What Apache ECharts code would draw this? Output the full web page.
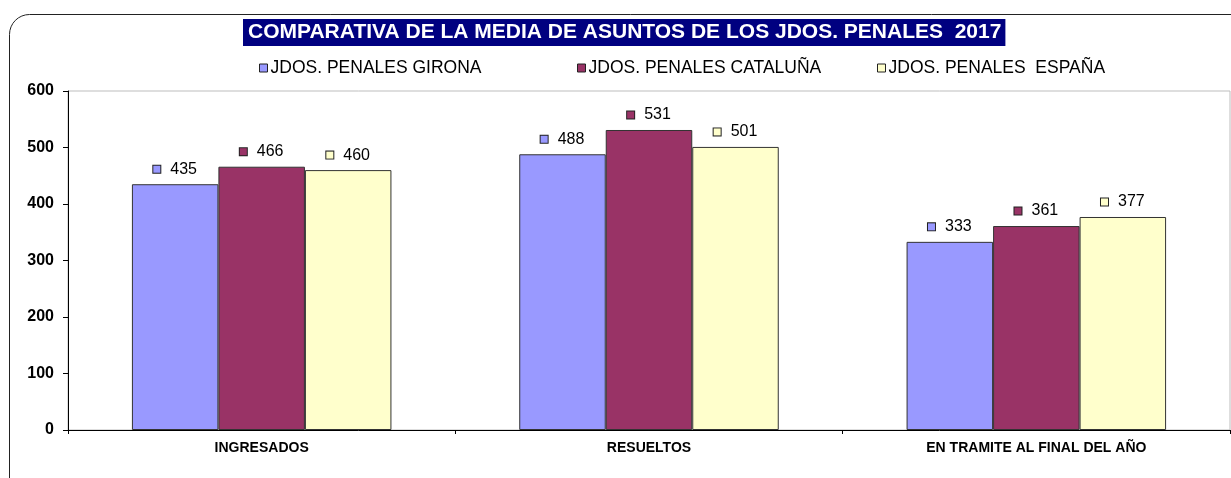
<!doctype html>
<html>
<head>
<meta charset="utf-8">
<title>Comparativa media asuntos jdos. penales 2017</title>
<style>
	html,body{height:100%;padding:0;margin:0;background:#fff;}
	#chart{width:1231px;height:478px;}
</style>
</head>
<body>
<div id="chart"></div>
<script src="https://cdn.jsdelivr.net/npm/echarts@6/dist/echarts.min.js"></script>
<script>
var categories = ['INGRESADOS', 'RESUELTOS', 'EN TRAMITE AL FINAL DEL AÑO'];
var seriesNames = ['JDOS. PENALES GIRONA', 'JDOS. PENALES CATALUÑA', 'JDOS. PENALES  ESPAÑA'];
var girona = [435, 488, 333];
var cataluna = [466, 531, 361];
var espana = [460, 501, 377];
var yTicks = [0, 100, 200, 300, 400, 500, 600];

var colors = ['#9999FF', '#993366', '#FFFFCC'];
var legendLeft = [259, 577, 877];

function makeSeries(i, data){
	return {
		name: seriesNames[i],
		type: 'bar',
		data: data,
		barGap: '0%',
		barCategoryGap: '33%',
		itemStyle: {color: colors[i], borderColor: '#333', borderWidth: 1},
		label: {
			show: true,
			position: 'top',
			distance: 7,
			formatter: '{sq|}   {v|{c}}',
			rich: {
				sq: {width: 7, height: 7, backgroundColor: colors[i], borderColor: '#222', borderWidth: 1},
				v: {fontSize: 16, color: '#000', fontFamily: 'Liberation Sans, Arial'}
			}
		}
	};
}

var chart = echarts.init(document.getElementById('chart'));
chart.setOption({
	animation: false,
	textStyle: {fontFamily: 'Liberation Sans, Arial, sans-serif'},
	title: {
		text: 'COMPARATIVA DE LA MEDIA DE ASUNTOS DE LOS JDOS. PENALES  2017',
		left: 243,
		top: 19,
		padding: [3, 4, 3, 5],
		backgroundColor: '#000080',
		textStyle: {color: '#fff', fontSize: 21, fontWeight: 'bold', lineHeight: 21}
	},
	legend: seriesNames.map(function(n, i){
		return {
			data: [n],
			left: legendLeft[i],
			top: 59,
			icon: 'rect',
			itemWidth: 8,
			itemHeight: 8,
			itemGap: 0,
			padding: 0,
			selectedMode: false,
			itemStyle: {borderColor: '#222', borderWidth: 1},
			textStyle: {fontSize: 17.5, color: '#000', padding: [0, 0, 0, -2]}
		};
	}),
	graphic: [
		{type: 'rect', shape: {x: 9.5, y: 14.5, width: 1300, height: 520, r: 20},
			style: {fill: 'none', stroke: '#222', lineWidth: 1}, z: -1}
	],
	grid: {left: 68, right: 1, top: 91, bottom: 48, show: true, borderColor: '#bdbdbd', borderWidth: 1},
	xAxis: {
		type: 'category',
		data: categories,
		axisLine: {lineStyle: {color: '#000', width: 1}},
		axisTick: {show: true, length: 4, lineStyle: {color: '#000'}},
		axisLabel: {fontSize: 14, fontWeight: 'bold', color: '#000', margin: 11}
	},
	yAxis: {
		type: 'value',
		min: yTicks[0],
		max: yTicks[yTicks.length - 1],
		interval: 100,
		axisLine: {show: true, lineStyle: {color: '#000', width: 1}},
		axisTick: {show: true, length: 5, lineStyle: {color: '#000'}},
		splitLine: {show: false},
		axisLabel: {fontSize: 16, fontWeight: 'bold', color: '#000', margin: 14}
	},
	series: [makeSeries(0, girona), makeSeries(1, cataluna), makeSeries(2, espana)]
});
</script>
</body>
</html>
